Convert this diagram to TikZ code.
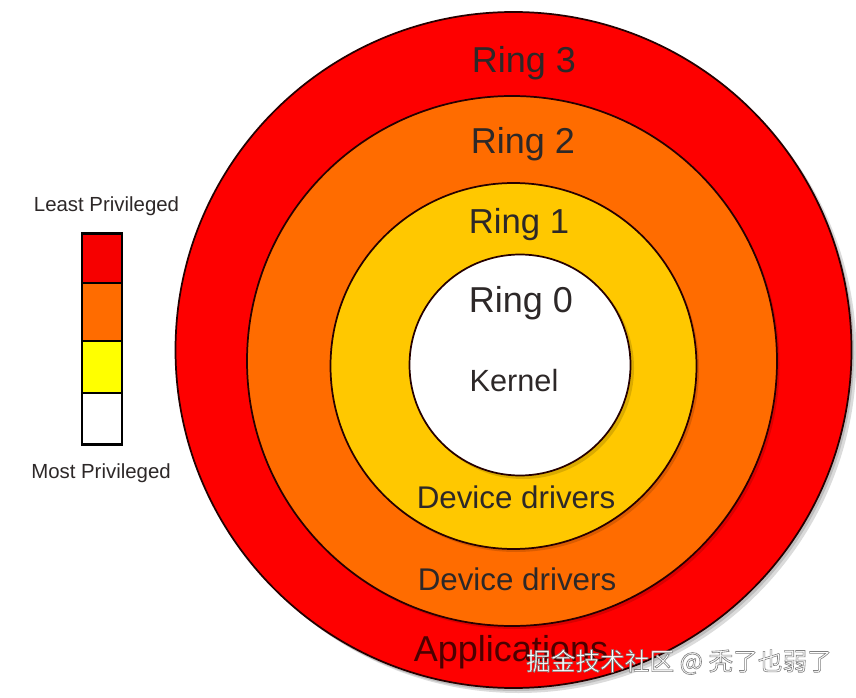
\documentclass[tikz,border=0pt]{standalone}
\usepackage{fontspec}
\setmainfont{Liberation Sans}
\newfontfamily\cjk{Noto Sans CJK SC}
\definecolor{ringred}{RGB}{254,0,0}
\definecolor{ringorange}{RGB}{255,108,0}
\definecolor{ringgold}{RGB}{255,200,0}
\definecolor{barred}{RGB}{246,0,0}
\definecolor{baryellow}{RGB}{255,255,0}
\definecolor{inkgray}{RGB}{45,40,40}
\newcommand{\outlined}[1]{\special{pdf:code 2 Tr 0.45 w 0.5 0.5 0.5 RG}#1\special{pdf:code 0 Tr}}
\tikzset{
  ringcircle/.style={draw=black!85!red,line width=1.3pt},
  ringshadow/.style={fill=black,opacity=0.14,draw=none},
  ringlabel/.style={inner sep=0.75pt,font=\fontsize{27}{31}\selectfont,text=inkgray},
  smalllabel/.style={ringlabel,font=\fontsize{23.5}{27}\selectfont},
  barlabel/.style={inner sep=0.75pt,font=\fontsize{15.3}{18}\selectfont,text=inkgray},
  barcell/.style={draw=black,line width=1.6pt},
}
\begin{document}
\begin{tikzpicture}[x=0.75pt,y=0.75pt,yscale=-1,xscale=1]
\useasboundingbox (0,0) rectangle (856,698);
\fill[white] (0,0) rectangle (856,698);

%Shadows
\fill[ringshadow] (516,353) circle [radius=338];
\fill[ringshadow] (518.5,355) circle [radius=338];
\fill[ringshadow] (515,365) circle [radius=265];
\fill[ringshadow] (516,370) circle [radius=183];
\fill[ringshadow] (523,369) circle [radius=111];

%Rings
\draw[ringcircle,fill=ringred] (513.5,350) circle [radius=338];
\fill[ringshadow] (514.5,364) circle [radius=265];
\draw[ringcircle,fill=ringorange] (512,361) circle [radius=265];
\fill[ringshadow] (516,369) circle [radius=183];
\draw[ringcircle,fill=ringgold] (513.5,366) circle [radius=183];
\fill[ringshadow] (523,368) circle [radius=111];
\draw[ringcircle,fill=white] (520,365) circle [radius=110.5];

%Bar
\draw[barcell,fill=barred] (82,233.5) rectangle (122,283);
\draw[barcell,fill=ringorange] (82,283) rectangle (122,341);
\draw[barcell,fill=baryellow] (82,341) rectangle (122,393);
\draw[barcell,fill=white] (82,393) rectangle (122,444.5);

% Text Node
\node[ringlabel] (ringthree) at (524,63) {Ring 3};
\node[ringlabel] (ringtwo) at (523,144) {Ring 2};
\node[ringlabel,font=\fontsize{26}{30}\selectfont] (ringone) at (519,225) {Ring 1};
\node[ringlabel] (ringzero) at (521,303) {Ring 0};
\node[smalllabel,font=\fontsize{23}{27}\selectfont] (kernel) at (514,381) {Kernel};
\node[smalllabel] (ringonedrivers) at (516,497) {Device drivers};
\node[smalllabel] (ringtwodrivers) at (517,579) {Device drivers};
\node[ringlabel,text=black!70!red] (apps) at (511,652) {Applications};
\node[barlabel] (least) at (106.5,206) {Least Privileged};
\node[barlabel] (most) at (101,473) {Most Privileged};
\node[inner sep=0.75pt,text=white,font=\cjk\fontsize{18.5}{22}\selectfont] (mark) at (679,662) {\outlined{掘金技术社区 @ 秃了也弱了}};
\end{tikzpicture}
\end{document}
